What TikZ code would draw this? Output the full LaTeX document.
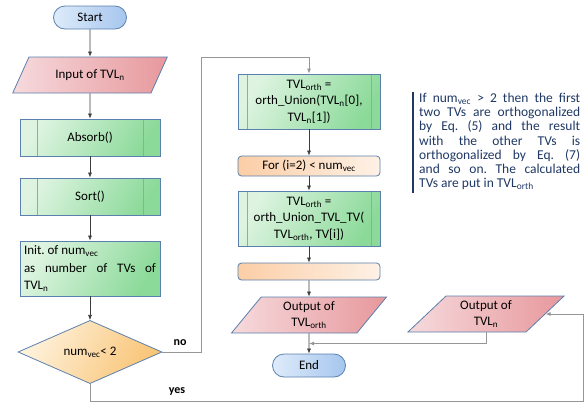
\documentclass[tikz,border=0pt]{standalone}
\usepackage{fontspec}
\setmainfont{Carlito}
\usetikzlibrary{shapes,arrows.meta,positioning,calc}
\usepackage{xcolor}
\definecolor{edgeblue}{RGB}{91,128,173}
\definecolor{notenavy}{RGB}{31,56,100}
\definecolor{linegray}{RGB}{150,150,150}
\definecolor{arrowgray}{RGB}{60,60,60}
\definecolor{termA}{RGB}{222,235,250}
\definecolor{termB}{RGB}{166,198,238}
\definecolor{ioA}{RGB}{246,218,221}
\definecolor{ioB}{RGB}{231,152,156}
\definecolor{procA}{RGB}{222,244,225}
\definecolor{procB}{RGB}{140,218,154}
\definecolor{decA}{RGB}{254,242,220}
\definecolor{decB}{RGB}{249,196,118}
\definecolor{loopA}{RGB}{251,206,166}
\definecolor{loopB}{RGB}{254,241,230}
\newcommand{\tsub}[1]{\textsubscript{#1}}
\frenchspacing

\begin{document}
\begin{tikzpicture}[x=1pt, y=1pt, node distance=60pt,
    font=\fontsize{13}{16.5}\selectfont,
    term/.style={rectangle, draw=edgeblue, line width=0.8pt, left color=termA, right color=termB,
        minimum width=73pt, minimum height=23pt, rounded corners=11.5pt, inner sep=0pt},
    io/.style={trapezium, trapezium stretches=true, trapezium left angle=#1, trapezium right angle=180-#1,
        draw=edgeblue, line width=0.8pt, left color=ioA, right color=ioB,
        minimum width=156pt, minimum height=36pt, inner sep=0pt, align=center},
    proc/.style={rectangle, draw=edgeblue, line width=0.8pt, left color=procA, right color=procB, shading angle=60,
        minimum width=140pt, minimum height=37pt, inner sep=0pt, align=center},
    subproc/.style={proc, path picture={
        \draw[draw=edgeblue!70, line width=0.7pt]
            ([xshift=#1]path picture bounding box.north west) -- ([xshift=#1]path picture bounding box.south west)
            ([xshift=-#1]path picture bounding box.north east) -- ([xshift=-#1]path picture bounding box.south east);}},
    decision/.style={diamond, draw=edgeblue, line width=0.8pt, left color=decA, right color=decB, shading angle=60,
        minimum width=144pt, minimum height=62pt, inner sep=0pt},
    looplim/.style={rectangle, rounded corners=3.5pt,
        draw=edgeblue, line width=0.8pt, left color=loopA, right color=loopB,
        minimum width=142pt, minimum height=#1, inner sep=0pt},
    flow/.style={draw=arrowgray, line width=0.6pt, -{Latex[length=5pt,width=4pt]}},
    back/.style={draw=linegray, line width=0.8pt, -{Latex[length=5pt,width=4pt]}},
    tag/.style={font=\fontsize{12}{14}\selectfont\bfseries}]

    \useasboundingbox (0,0) rectangle (586,-402);

    % left column
    \node[term] (start) at (90,-17.5) {Start};
    \node[io=50, below of=start, yshift=2.5pt] (input) {Input of TVL\tsub{n}};
    \node[subproc=17pt, below of=input, yshift=-2.5pt] (absorb) {Absorb()};
    \node[subproc=17pt, below of=absorb, yshift=1pt] (sort) {Sort()};
    \node[proc, below of=sort, yshift=-12pt, minimum height=55pt, text width=132pt, align=justify,
        font=\fontsize{13}{17.5}\selectfont] (init)
        {Init. of num\tsub{vec}\\ as number of TVs of\linebreak TVL\tsub{n}};
    \node[decision, below of=init, yshift=-23.5pt] (check) {num\tsub{vec}< 2};

    % right column
    \node[subproc=9pt, minimum width=142pt, minimum height=55pt] (union) at (309,-101.5)
        {TVL\tsub{orth} =\\ orth\_Union(TVL\tsub{n}[0],\\ TVL\tsub{n}[1])};
    \node[looplim=20pt, below of=union, yshift=-4.5pt] (forloop) {For (i=2) < num\tsub{vec}};
    \node[subproc=9pt, minimum width=142pt, minimum height=55pt, below of=forloop, yshift=7.5pt] (unionTV)
        {TVL\tsub{orth} =\\ orth\_Union\_TVL\_TV(\\ TVL\tsub{orth}, TV[i])};
    \node[looplim=17pt, below of=unionTV, yshift=7pt] (endloop) {};
    \node[io=60, below of=endloop, yshift=16.5pt] (outorth) {Output of\\ TVL\tsub{orth}};
    \node[term, below of=outorth, yshift=9.5pt] (end) {End};
    \node[io=48, minimum width=157pt, right of=outorth, xshift=117pt, yshift=1pt] (outn) {Output of\\ TVL\tsub{n}};

    % note
    \node[anchor=north west, text width=161pt, align=justify, inner sep=0pt, text=notenavy,
        font=\fontsize{13.5}{14.2}\selectfont] (note) at (419,-93)
        {If num\tsub{vec} > 2 then the first\linebreak two TVs are orthogonalized\linebreak
         by Eq. (5) and the result\linebreak with the other TVs is\linebreak
         orthogonalized by Eq. (7)\linebreak and so on. The calculated\linebreak TVs are put in TVL\tsub{orth}};
    \draw[notenavy, line width=2pt] ([xshift=-6pt,yshift=1pt]note.north west) -- ([xshift=-6pt,yshift=-3pt]note.south west);

    % connectors
    \draw[flow] (start) -- (input);
    \draw[flow] (input) -- (absorb);
    \draw[flow] (absorb) -- (sort);
    \draw[flow] (sort) -- (init);
    \draw[flow] (init) -- (check);
    \draw[flow] (union) -- (forloop);
    \draw[flow] (forloop) -- (unionTV);
    \draw[flow] (unionTV) -- (endloop);
    \draw[flow] (endloop) -- (outorth);
    \draw[flow] (outorth) -- coordinate[pos=0.5] (join) (end);

    \draw[back] (check.east) -- (201,-352) |- (309,-57) -- (union.north);
    \node[tag] (no) at (180,-343) {no};
    \draw[back] (check.south) -- (90,-401) -- (583,-401) |- (outn.east);
    \node[tag] (yes) at (177,-391) {yes};
    \draw[back] (outn.south) |- (join);
\end{tikzpicture}
\end{document}
